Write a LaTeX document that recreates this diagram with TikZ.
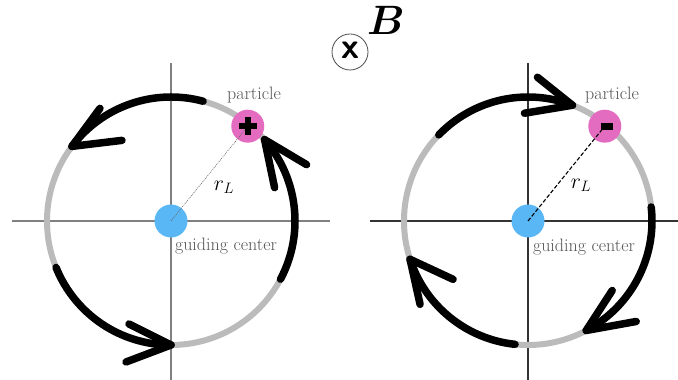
\documentclass[tikz,border=0pt]{standalone}
\usepackage{bm}
\usetikzlibrary{calc}
\definecolor{ringgrey}{HTML}{BBBBBB}
\definecolor{gcblue}{HTML}{5AB7F5}
\definecolor{ppink}{HTML}{E46CC0}
\definecolor{txtgrey}{HTML}{555555}
\begin{document}
\begin{tikzpicture}[x=1pt,y=1pt,
  ring/.style={draw=ringgrey,line width=6pt},
  motion/.style={draw=black,line width=7.5pt,line cap=round,line join=round},
  axisL/.style={draw=black!50,line width=1.1pt},
  axisR/.style={draw=black!80,line width=1.1pt},
  lbl/.style={text=txtgrey,font=\fontsize{18}{21}\selectfont,inner sep=0pt},
  rlbl/.style={font=\huge,scale=1.05,inner sep=0pt},
  gcdot/.style={circle,fill=gcblue,minimum size=33pt,inner sep=0pt},
  pdot/.style={circle,fill=ppink,minimum size=33pt,inner sep=0pt}]
\useasboundingbox (0,0) rectangle (678,380);
% ---------------- left panel ----------------
\coordinate (cL) at (171,159);
\draw[axisL] (12,159) -- (330,159);
\draw[axisL] (171,0) -- (171,317);
\draw[ring] (cL) circle[radius=124];
% top arc with arrow
\draw[motion] ($(cL)+(75:124)$) arc[start angle=75,end angle=143,radius=124] coordinate (tL1);
\draw[motion] ($(tL1)+(28,38)$) -- (tL1) -- ++(50,6);
% bottom arc
\draw[motion] ($(cL)+(202:124)$) arc[start angle=202,end angle=270,radius=124] coordinate (tL2);
\draw[motion] ($(tL2)+(-42,21)$) -- (tL2) -- ++(-45,-17);
% right arc
\draw[motion] ($(cL)+(-28:124)$) arc[start angle=-28,end angle=41,radius=124] coordinate (tL3);
\draw[motion] ($(tL3)+(42,-25)$) -- (tL3) -- ++(10,-48);
% guiding center and particle
\node[gcdot] (gcL) at (cL) {};
\node[pdot] (pL) at ($(cL)+(51:122)$) {};
\draw[black!60,line width=0.6pt,dash pattern=on 1pt off 1pt] (cL) -- (pL.center);
\draw[black,line width=5.5pt] ($(pL.center)+(-9,0)$) -- ($(pL.center)+(9,0)$);
\draw[black,line width=5.5pt] ($(pL.center)+(0,-9)$) -- ($(pL.center)+(0,9)$);
\node[lbl] (partL) at (254,285) {particle};
\node[lbl] (gclL) at (226,134) {guiding center};
\node[rlbl] (rL) at (224,193) {$r_L$};
% ---------------- right panel ----------------
\coordinate (cR) at (528,159);
\draw[axisR] (370,159) -- (678,159);
\draw[axisR] (528,0) -- (528,317);
\draw[ring] (cR) circle[radius=124];
% top arc
\draw[motion] ($(cR)+(136:124)$) arc[start angle=136,end angle=69,radius=124] coordinate (tR1);
\draw[motion] ($(tR1)+(-35,28)$) -- (tR1) -- ++(-48,-8);
% bottom-left arc
\draw[motion] ($(cR)+(264:124)$) arc[start angle=264,end angle=198,radius=124] coordinate (tR2);
\draw[motion] ($(tR2)+(43,-20)$) -- (tR2) -- ++(10,-45);
% right arc
\draw[motion] ($(cR)+(6.5:124)$) arc[start angle=6.5,end angle=-62,radius=124] coordinate (tR3);
\draw[motion] ($(tR3)+(26,40)$) -- (tR3) -- ++(50,9);
\node[gcdot] (gcR) at (cR) {};
\node[pdot] (pR) at ($(cR)+(51:122)$) {};
\draw[black,line width=1.1pt,dash pattern=on 4pt off 2pt] (cR) -- (pR.center);
\fill[black] ($(pR.center)+(-4,-3.5)$) rectangle ($(pR.center)+(8,3.5)$);
\node[lbl] (partR) at (612,285) {particle};
\node[lbl] (gclR) at (584,133) {guiding center};
\node[rlbl] (rR) at (581,195) {$r_L$};
% ---------------- field symbol ----------------
\node[circle,draw=black!70,line width=0.8pt,minimum size=36pt,inner sep=0pt] (Bsym) at (350,328) {};
\node[inner sep=0pt,font=\fontsize{36}{38}\sffamily\bfseries] (Bx) at (350,330) {x};
\node[inner sep=0pt,font=\Huge,scale=1.65] (Blbl) at (386,360) {$\bm{B}$};
\end{tikzpicture}
\end{document}
